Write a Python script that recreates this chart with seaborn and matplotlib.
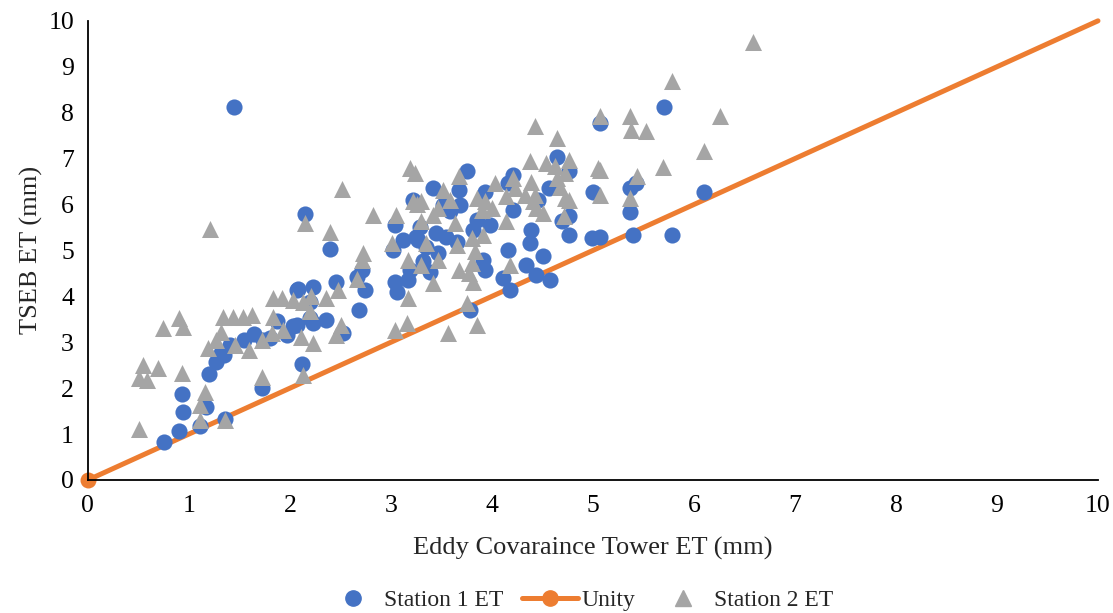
import matplotlib
matplotlib.use("Agg")
import matplotlib.pyplot as plt
import seaborn as sns
import pandas as pd
from matplotlib.lines import Line2D

# ---- data ----
s1_x = [0.75, 0.90, 0.94, 0.93, 1.11, 1.17, 1.36, 1.20, 1.27, 1.32, 1.35, 1.41, 1.55, 1.64,
        1.73, 1.80, 1.87, 1.97, 1.72, 2.03, 2.07, 2.12, 2.15, 2.40, 2.08, 2.23, 2.46, 2.66,
        2.74, 2.68, 2.36, 2.20, 2.20, 2.07, 2.53, 2.71, 3.04, 3.06, 3.17, 3.02, 3.12, 3.04,
        3.22, 3.25, 3.19, 3.75, 3.42, 3.67, 3.93, 4.21, 4.16, 3.68, 4.21, 3.58, 3.52, 3.29,
        3.85, 3.98, 3.45, 3.55, 3.65, 3.27, 3.81, 3.35, 3.47, 3.32, 3.39, 3.91, 3.93, 4.16,
        4.11, 4.18, 3.78, 5.07, 4.64, 4.76, 4.56, 5.00, 4.46, 4.76, 4.69, 4.39, 4.76, 4.38,
        4.99, 5.07, 4.51, 4.34, 4.44, 4.57, 5.70, 5.37, 5.43, 5.37, 5.40, 5.78, 6.10, 1.45,
        2.23]
s1_y = [0.82, 1.07, 1.49, 1.87, 1.18, 1.60, 1.33, 2.31, 2.58, 2.76, 2.72, 2.94, 3.05, 3.18,
        3.05, 3.10, 3.47, 3.16, 2.00, 3.36, 4.14, 2.53, 5.80, 5.03, 4.16, 4.21, 4.32, 4.41,
        4.14, 3.70, 3.49, 3.88, 3.52, 3.38, 3.20, 4.58, 4.32, 4.10, 4.36, 5.01, 5.23, 5.56,
        6.10, 5.30, 4.58, 6.72, 6.35, 6.32, 6.28, 6.64, 6.46, 5.99, 5.88, 5.85, 5.99, 5.52,
        5.66, 5.56, 5.37, 5.30, 5.19, 5.22, 5.45, 5.08, 4.94, 4.76, 4.54, 4.79, 4.58, 5.01,
        4.39, 4.14, 3.70, 7.77, 7.04, 6.72, 6.35, 6.28, 6.10, 5.74, 5.63, 5.45, 5.34, 5.16,
        5.26, 5.30, 4.87, 4.68, 4.47, 4.36, 8.12, 6.35, 6.46, 5.83, 5.34, 5.34, 6.27, 8.12,
        3.42]

s2_x = [0.51, 0.55, 0.51, 0.58, 0.69, 0.74, 0.90, 0.94, 0.93, 1.16, 1.11, 1.11, 1.36, 1.19,
        1.27, 1.32, 1.34, 1.44, 1.46, 1.54, 1.59, 1.62, 1.72, 1.82, 1.83, 1.83, 1.92, 1.93,
        1.72, 2.03, 2.52, 2.15, 2.40, 2.82, 3.05, 3.22, 3.01, 2.72, 2.71, 2.66, 2.48, 2.36,
        2.21, 2.13, 2.20, 2.51, 2.46, 2.11, 2.23, 2.13, 3.17, 3.17, 3.16, 3.04, 3.24, 3.19,
        3.67, 3.52, 4.03, 4.21, 4.14, 3.26, 3.30, 3.58, 3.85, 3.93, 3.47, 3.90, 4.00, 3.42,
        3.30, 4.14, 3.63, 3.80, 3.91, 3.65, 3.35, 3.83, 3.47, 3.80, 3.30, 3.67, 3.77, 3.81,
        3.42, 4.18, 3.75, 3.85, 3.56, 5.07, 4.43, 4.64, 4.76, 4.38, 4.54, 4.62, 5.05, 4.72,
        4.64, 4.39, 4.67, 4.23, 5.07, 4.33, 4.43, 4.72, 4.76, 4.41, 4.44, 4.51, 4.71, 6.58,
        5.78, 6.26, 5.37, 5.38, 5.53, 6.10, 5.69, 5.44, 5.07, 5.37, 1.21]
s2_y = [1.10, 2.51, 2.22, 2.18, 2.43, 3.31, 3.52, 3.34, 2.32, 1.92, 1.63, 1.31, 1.31, 2.87,
        3.05, 3.23, 3.56, 3.56, 2.94, 3.56, 2.83, 3.59, 3.05, 3.20, 3.56, 3.96, 3.96, 3.27,
        2.25, 3.92, 6.33, 5.59, 5.41, 5.77, 5.77, 6.07, 5.16, 4.94, 4.79, 4.37, 4.14, 3.96,
        4.00, 3.88, 3.67, 3.38, 3.16, 3.12, 2.98, 2.29, 4.79, 3.96, 3.41, 3.27, 6.68, 6.79,
        6.61, 6.32, 6.46, 6.57, 6.18, 6.02, 6.07, 6.10, 6.14, 6.07, 5.92, 5.88, 5.92, 5.77,
        5.63, 5.63, 5.59, 5.26, 5.34, 5.12, 5.16, 4.98, 4.79, 4.72, 4.68, 4.58, 4.50, 4.32,
        4.28, 4.68, 3.85, 3.38, 3.20, 7.92, 7.70, 7.44, 6.97, 6.94, 6.90, 6.83, 6.79, 6.68,
        6.57, 6.50, 6.39, 6.35, 6.21, 6.21, 6.21, 6.14, 6.10, 6.07, 5.92, 5.81, 5.74, 9.53,
        8.70, 7.92, 7.92, 7.63, 7.59, 7.16, 6.81, 6.61, 6.75, 6.14, 5.46]

unity_x = [0, 10]
unity_y = [0, 10]

x_ticks = list(range(0, 11))
y_ticks = list(range(0, 11))

series_names = ["Station 1 ET", "Unity", "Station 2 ET"]

# ---- style ----
sns.set_style("white")
plt.rcParams["font.family"] = ["Liberation Serif", "DejaVu Serif"]

BLUE = "#4472C4"
ORANGE = "#ED7D31"
GREY = "#A5A5A5"

fig = plt.figure(figsize=(11.13, 6.13), dpi=100)
ax = fig.add_axes([0.079, 0.217, 0.9075, 0.749])

df1 = pd.DataFrame({"x": s1_x, "y": s1_y})
df2 = pd.DataFrame({"x": s2_x, "y": s2_y})
dfu = pd.DataFrame({"x": unity_x, "y": unity_y})

sns.lineplot(data=dfu, x="x", y="y", ax=ax, color=ORANGE, linewidth=3.6,
             marker="o", markersize=11.5, markevery=[0], markeredgewidth=0,
             clip_on=False, zorder=2, legend=False)
sns.scatterplot(data=df1, x="x", y="y", ax=ax, color=BLUE, marker="o", s=135,
                linewidth=0, zorder=3, legend=False)
sns.scatterplot(data=df2, x="x", y="y", ax=ax, color=GREY, marker="^", s=150,
                linewidth=0, zorder=4, legend=False)

ax.set_xlim(0, 10)
ax.set_ylim(0, 10)
ax.set_xticks(x_ticks)
ax.set_yticks(y_ticks)
ax.tick_params(axis="both", labelsize=18.5, direction="out", length=6, width=1.2,
               colors="black", pad=4)
ax.tick_params(axis="x", pad=5)
for side in ["top", "right"]:
    ax.spines[side].set_visible(False)
for side in ["left", "bottom"]:
    ax.spines[side].set_color("black")
    ax.spines[side].set_linewidth(1.3)
ax.grid(False)

ax.set_xlabel("Eddy Covaraince Tower ET (mm)", fontsize=19, labelpad=14)
ax.set_ylabel("TSEB ET (mm)", fontsize=19, labelpad=4)

handles = [
    Line2D([], [], color=BLUE, marker="o", linestyle="none", markersize=11),
    Line2D([], [], color=ORANGE, marker="o", linewidth=3.6, markersize=11),
    Line2D([], [], color=GREY, marker="^", linestyle="none", markersize=11),
]
fig.legend(handles, series_names, loc="center", bbox_to_anchor=(0.520, 0.021),
           ncol=3, frameon=False, fontsize=17, handlelength=2.37, columnspacing=0.82,
           handletextpad=0.13)

fig.savefig("out.png", dpi=100)
